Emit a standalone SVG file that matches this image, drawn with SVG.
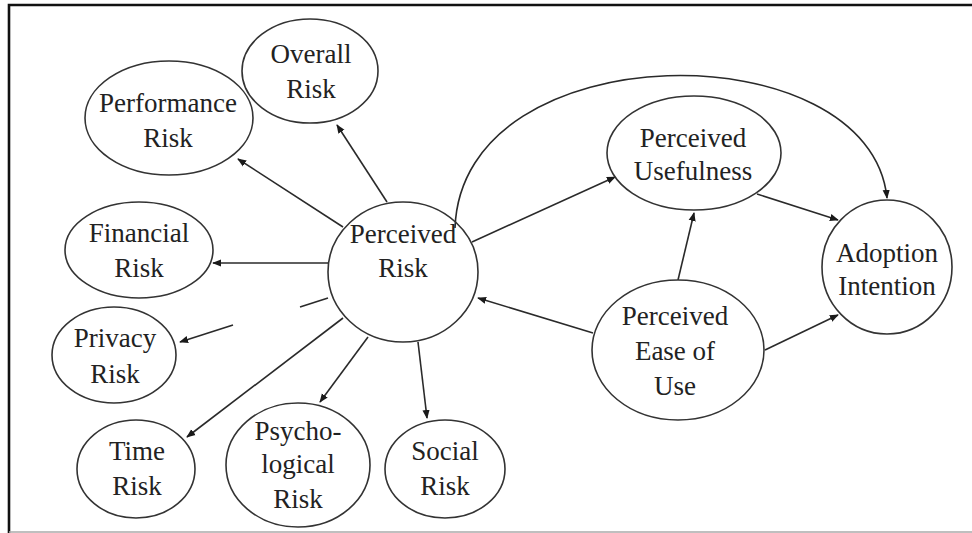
<svg xmlns="http://www.w3.org/2000/svg" width="972" height="533" viewBox="0 0 972 533">
<defs>
<style>
.n ellipse{fill:#fff;stroke:#333;stroke-width:1.6}
.n text{font-size:27px;fill:#222;text-anchor:middle}
.c path,.c line{fill:none;stroke:#2a2a2a;stroke-width:1.6}
.frame{fill:none;stroke:#111;stroke-width:2.6}
</style>
<marker id="ah" viewBox="0 0 10 10" refX="9" refY="5" markerWidth="9" markerHeight="9" markerUnits="userSpaceOnUse" orient="auto">
<path d="M0,1 L10,5 L0,9 Z" fill="#1a1a1a"/>
</marker>
</defs>
<rect width="972" height="533" fill="#fff"/>
<path class="frame" d="M9,533 V5 H972"/>
<line x1="9" y1="532" x2="972" y2="532" stroke="#aaa" stroke-width="1.5"/>

<g class="c">
<path d="M455,228 C462,30 870,30 887,198" marker-end="url(#ah)"/>
<line x1="387" y1="202" x2="337" y2="125" marker-end="url(#ah)"/>
<line x1="343" y1="227" x2="238" y2="159" marker-end="url(#ah)"/>
<line x1="328" y1="263" x2="213" y2="263" marker-end="url(#ah)"/>
<line x1="328" y1="298" x2="300" y2="307"/>
<line x1="233" y1="325" x2="180" y2="342" marker-end="url(#ah)"/>
<line x1="343" y1="318" x2="187" y2="437" marker-end="url(#ah)"/>
<line x1="368" y1="337" x2="320" y2="402" marker-end="url(#ah)"/>
<line x1="418" y1="342" x2="427" y2="418" marker-end="url(#ah)"/>
<line x1="472" y1="242" x2="615" y2="177" marker-end="url(#ah)"/>
<line x1="757" y1="194" x2="838" y2="220" marker-end="url(#ah)"/>
<line x1="678" y1="280" x2="694" y2="213" marker-end="url(#ah)"/>
<line x1="593" y1="333" x2="478" y2="298" marker-end="url(#ah)"/>
<line x1="765" y1="350" x2="838" y2="315" marker-end="url(#ah)"/>
</g>

<g font-family="'Liberation Serif', 'DejaVu Serif', 'Times New Roman', serif">
<g id="perceived-risk" class="n">
<ellipse cx="403" cy="272" rx="75" ry="70" style="fill:none"/>
<text x="403" y="243">Perceived</text>
<text x="403" y="277">Risk</text>
</g>
<g id="overall-risk" class="n">
<ellipse cx="310" cy="71" rx="68" ry="52"/>
<text x="311" y="63">Overall</text>
<text x="311" y="98">Risk</text>
</g>
<g id="performance-risk" class="n">
<ellipse cx="169" cy="118" rx="84" ry="57"/>
<text x="168" y="112">Performance</text>
<text x="168" y="147">Risk</text>
</g>
<g id="financial-risk" class="n">
<ellipse cx="139" cy="250" rx="74" ry="48"/>
<text x="139" y="242">Financial</text>
<text x="139" y="277">Risk</text>
</g>
<g id="privacy-risk" class="n">
<ellipse cx="114" cy="355" rx="62" ry="48"/>
<text x="115" y="347">Privacy</text>
<text x="115" y="383">Risk</text>
</g>
<g id="time-risk" class="n">
<ellipse cx="136" cy="469" rx="59" ry="49"/>
<text x="137" y="460">Time</text>
<text x="137" y="495">Risk</text>
</g>
<g id="psychological-risk" class="n">
<ellipse cx="298" cy="465" rx="72" ry="62"/>
<text x="298" y="440">Psycho-</text>
<text x="298" y="473">logical</text>
<text x="298" y="508">Risk</text>
</g>
<g id="social-risk" class="n">
<ellipse cx="445" cy="469" rx="60" ry="49"/>
<text x="445" y="460">Social</text>
<text x="445" y="495">Risk</text>
</g>
<g id="perceived-usefulness" class="n">
<ellipse cx="694" cy="153" rx="87" ry="57"/>
<text x="693" y="147">Perceived</text>
<text x="693" y="180">Usefulness</text>
</g>
<g id="adoption-intention" class="n">
<ellipse cx="887" cy="267" rx="65" ry="67"/>
<text x="887" y="262">Adoption</text>
<text x="887" y="295">Intention</text>
</g>
<g id="perceived-ease-of-use" class="n">
<ellipse cx="678" cy="350" rx="86" ry="70"/>
<text x="675" y="325">Perceived</text>
<text x="675" y="360">Ease of</text>
<text x="675" y="395">Use</text>
</g>
</g>
</svg>
